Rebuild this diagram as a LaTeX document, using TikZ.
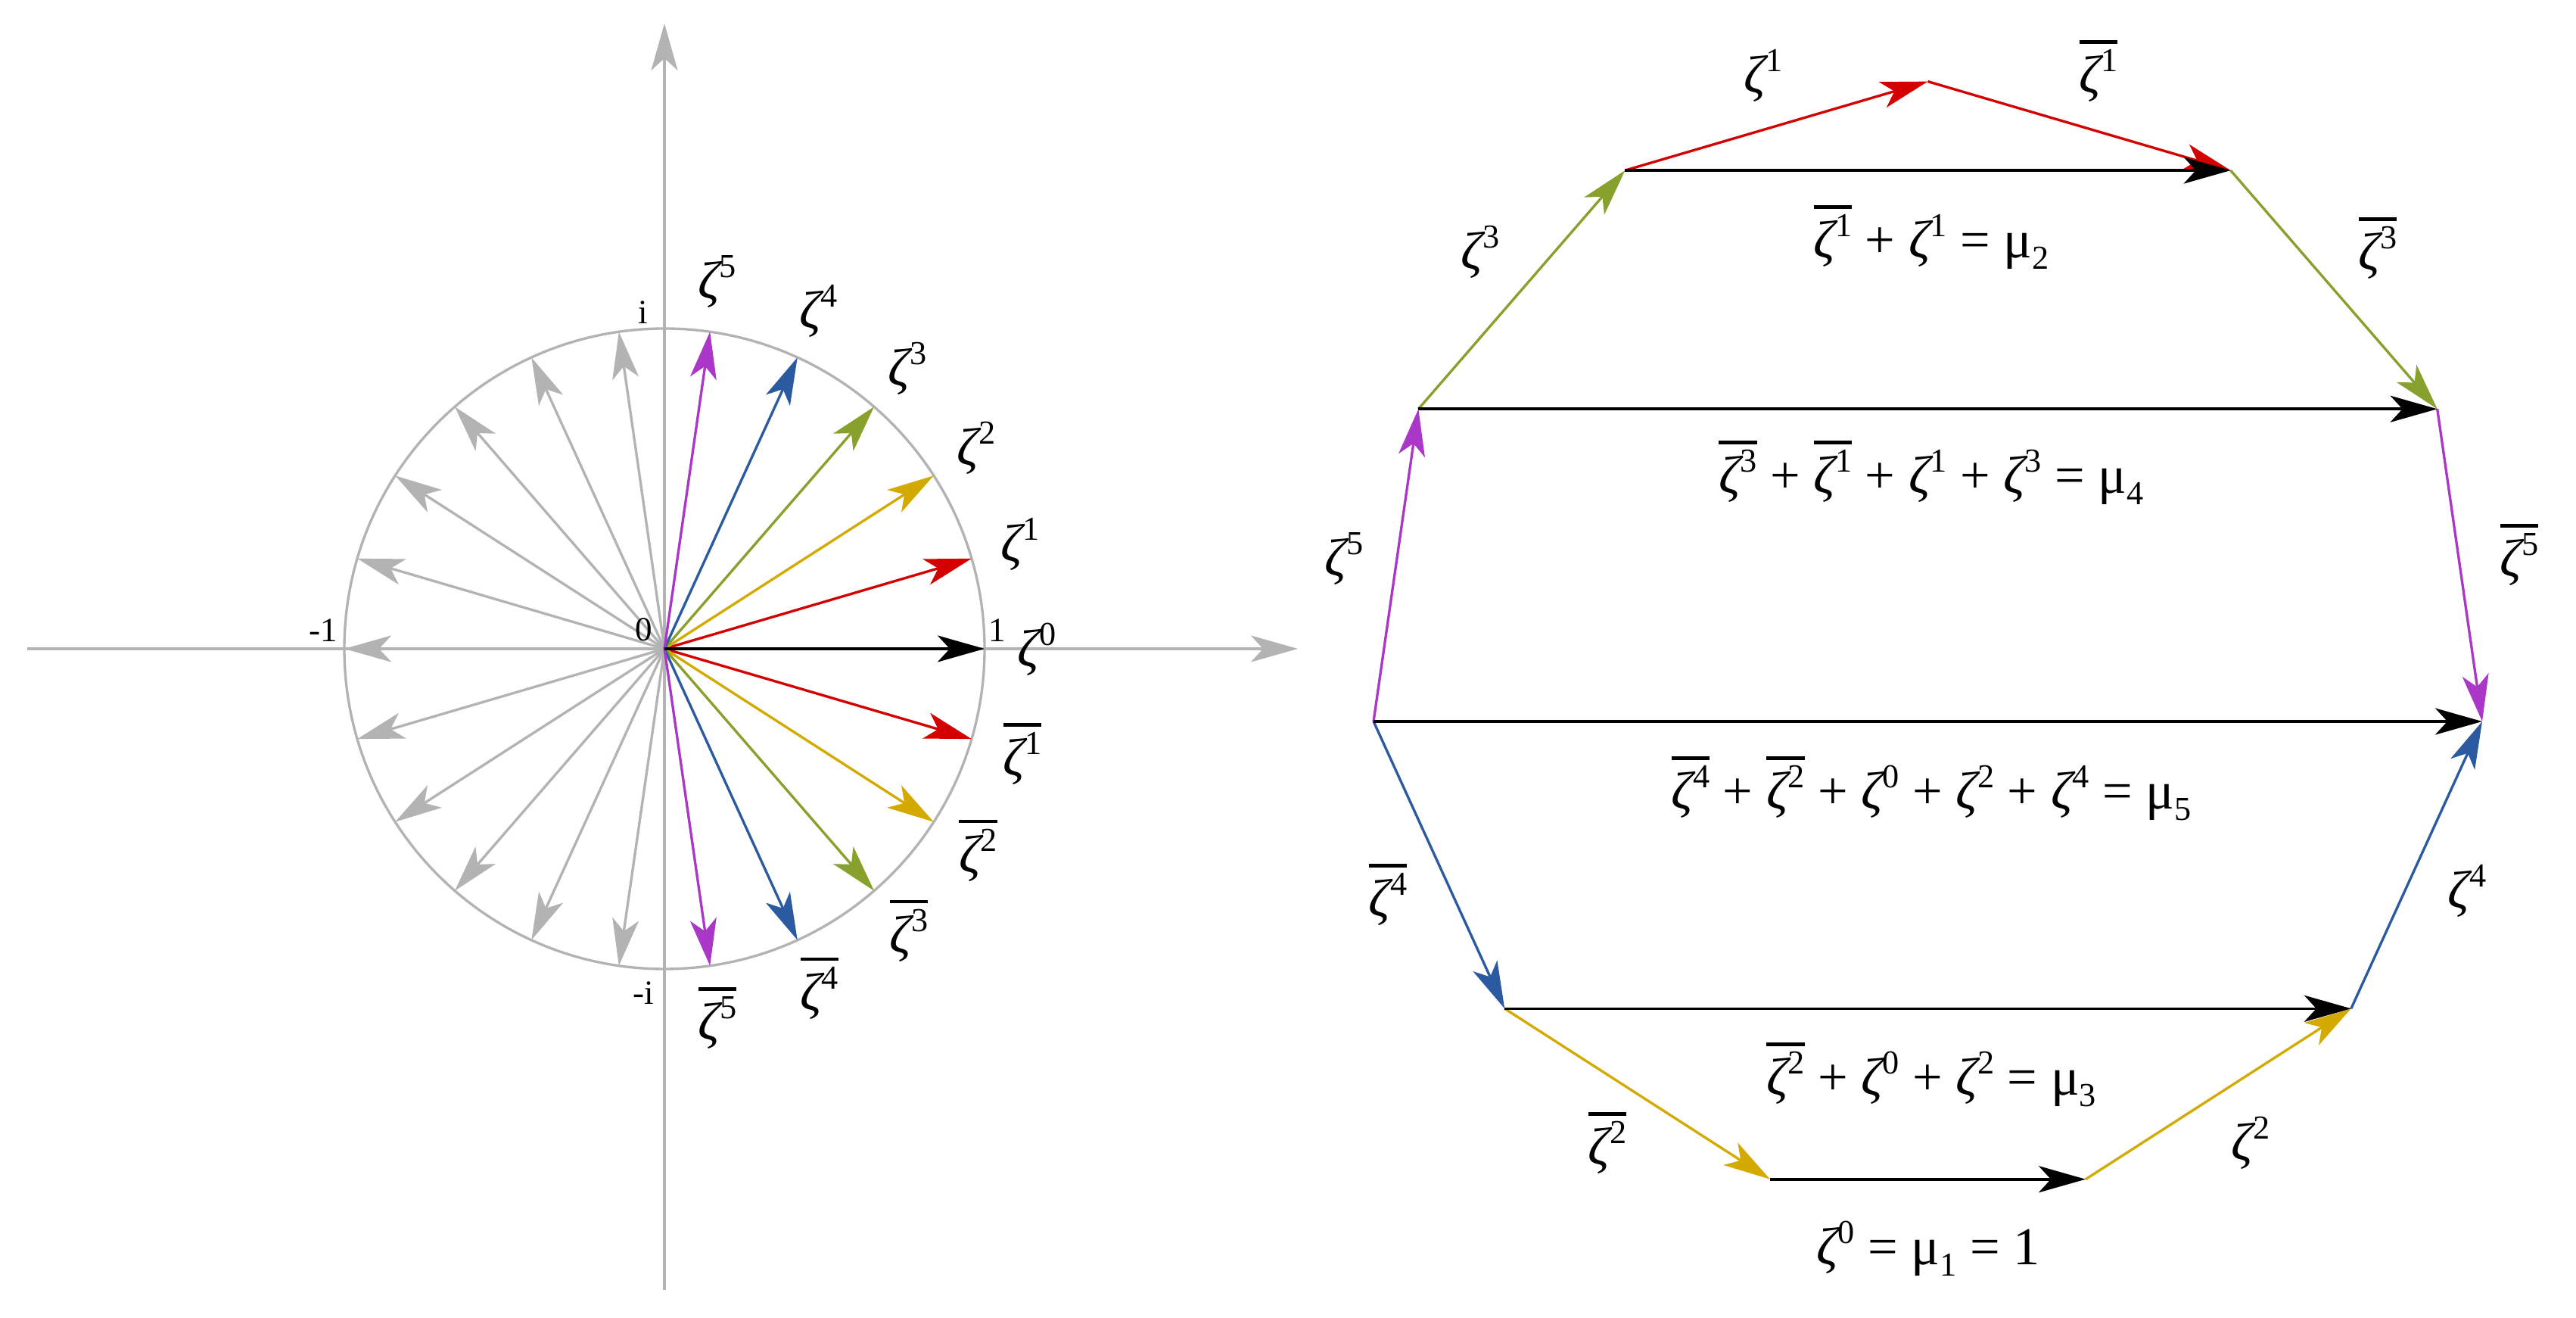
\documentclass[tikz,border=0pt]{standalone}
\usepackage{fontspec}
\setmainfont{Liberation Serif}
\usetikzlibrary{arrows.meta}
\definecolor{cred}{HTML}{D40000}
\definecolor{cgold}{HTML}{D4AA00}
\definecolor{colive}{HTML}{88A02C}
\definecolor{cblue}{HTML}{2C5AA0}
\definecolor{cpurp}{HTML}{AB37C8}
\definecolor{cgray}{HTML}{B3B3B3}
\newcommand\supsz{\fontsize{12.6}{14}\selectfont}
\newcommand\zt[1]{{\itshape ζ}\raisebox{0.4em}{\supsz #1}}
\newcommand\zb[1]{\vbox{\hrule height 1.3pt\kern 2.2pt\hbox{\zt{#1}}}}
\newcommand\mus[1]{μ\raisebox{-0.2em}{\supsz #1}}
\begin{document}
\begin{tikzpicture}[
  vec/.style={line width=0.95pt, -{Stealth[length=6.2mm,width=3.5mm,inset=1.6mm]}},
  thickvec/.style={vec, line width=1.25pt},
  lab/.style={font=\fontsize{20}{24}\selectfont, inner sep=0pt},
  small/.style={font=\fontsize{12.8}{15}\selectfont, inner sep=0pt}]
\useasboundingbox (0,0) rectangle (34.04,17.41);
% ---------------- left: roots of unity ----------------
\coordinate (O) at (8.78,8.84);
\coordinate (xl) at (0.36,8.84);
\coordinate (xr) at (17.15,8.84);
\coordinate (yb) at (8.78,0.37);
\coordinate (yt) at (8.78,17.10);
\draw[vec,cgray] (xl) -- (xr);
\draw[vec,cgray] (yb) -- (yt);
\draw[cgray, line width=0.95pt] (O) circle (4.23);
\foreach \k in {6,...,16} {
  \path (O) ++(\k*360/22:4.23) coordinate (g\k);
  \draw[vec,cgray] (O) -- (g\k);
}
\path (O) ++(0:4.23) coordinate (z0);
\foreach \k/\c in {1/cred,2/cgold,3/colive,4/cblue,5/cpurp} {
  \path (O) ++(\k*360/22:4.23) coordinate (z\k);
  \path (O) ++(-\k*360/22:4.23) coordinate (w\k);
  \draw[vec,\c] (O) -- (z\k);
  \draw[vec,\c] (O) -- (w\k);
  \path (O) ++(\k*360/22:4.90) node[lab] (lz\k) {\zt{\k}};
  \path (O) ++(-\k*360/22:4.93) node[lab] (lw\k) {\zb{\k}};
}
\draw[vec,black,line width=1.2pt] (O) -- (z0);
\node[lab] (lz0) at (13.70,8.83) {\zt{0}};
\node[small] (li) at (8.50,13.28) {i};
\node[small] (lmi) at (8.50,4.29) {-i};
\node[small] (lm1) at (4.27,9.08) {-1};
\node[small] (l1) at (13.18,9.08) {1};
\node[small] (l0) at (8.51,9.09) {0};
% ---------------- right: polygon ----------------
\coordinate (A) at (18.15,7.88);
\path (A) ++(-65.4545:4.17) coordinate (B) ++(-32.7273:4.17) coordinate (C)
  ++(0:4.17) coordinate (D) ++(32.7273:4.17) coordinate (E) ++(65.4545:4.17) coordinate (F);
\path (A) ++(81.8182:4.17) coordinate (G) ++(49.0909:4.17) coordinate (H)
  ++(16.3636:4.17) coordinate (I) ++(-16.3636:4.17) coordinate (J) ++(-49.0909:4.17) coordinate (K);
\draw[vec,cpurp] (A) -- (G);
\draw[vec,colive] (G) -- (H);
\draw[vec,cred] (H) -- (I);
\draw[vec,cred] (I) -- (J);
\draw[vec,colive] (J) -- (K);
\draw[vec,cpurp] (K) -- (F);
\draw[vec,cblue] (A) -- (B);
\draw[vec,cgold] (B) -- (C);
\draw[vec,cgold] (D) -- (E);
\draw[vec,cblue] (E) -- (F);
\draw[vec,black] (H) -- (J);
\draw[thickvec,black] (G) -- (K);
\draw[thickvec,black] (A) -- (F);
\draw[vec,black] (B) -- (E);
\draw[vec,black,line width=1.1pt] (C) -- (D);
% edge labels
\node[lab] (r1) at (23.30,16.41) {\zt{1}};
\node[lab] (rb1) at (27.73,16.47) {\zb{1}};
\node[lab] (r3) at (19.56,14.08) {\zt{3}};
\node[lab] (rb3) at (31.42,14.13) {\zb{3}};
\node[lab] (r5) at (17.76,10.03) {\zt{5}};
\node[lab] (rb5) at (33.29,10.08) {\zb{5}};
\node[lab] (rb4) at (18.34,5.59) {\zb{4}};
\node[lab] (r4) at (32.60,5.64) {\zt{4}};
\node[lab] (rb2) at (21.24,2.31) {\zb{2}};
\node[lab] (r2) at (29.74,2.31) {\zt{2}};
% sums
\node[lab, anchor=base] (e2) at (25.52,14.00) {\zb{1} + \zt{1} = \mus{2}};
\node[lab, anchor=base] (e4) at (25.52,10.89) {\zb{3} + \zb{1} + \zt{1} + \zt{3} = \mus{4}};
\node[lab, anchor=base] (e5) at (25.52,6.72) {\zb{4} + \zb{2} + \zt{0} + \zt{2} + \zt{4} = \mus{5}};
\node[lab, anchor=base] (e3) at (25.52,2.94) {\zb{2} + \zt{0} + \zt{2} = \mus{3}};
\node[lab, anchor=base] (e1) at (25.48,0.70) {\zt{0} = \mus{1} = 1};
\end{tikzpicture}
\end{document}
